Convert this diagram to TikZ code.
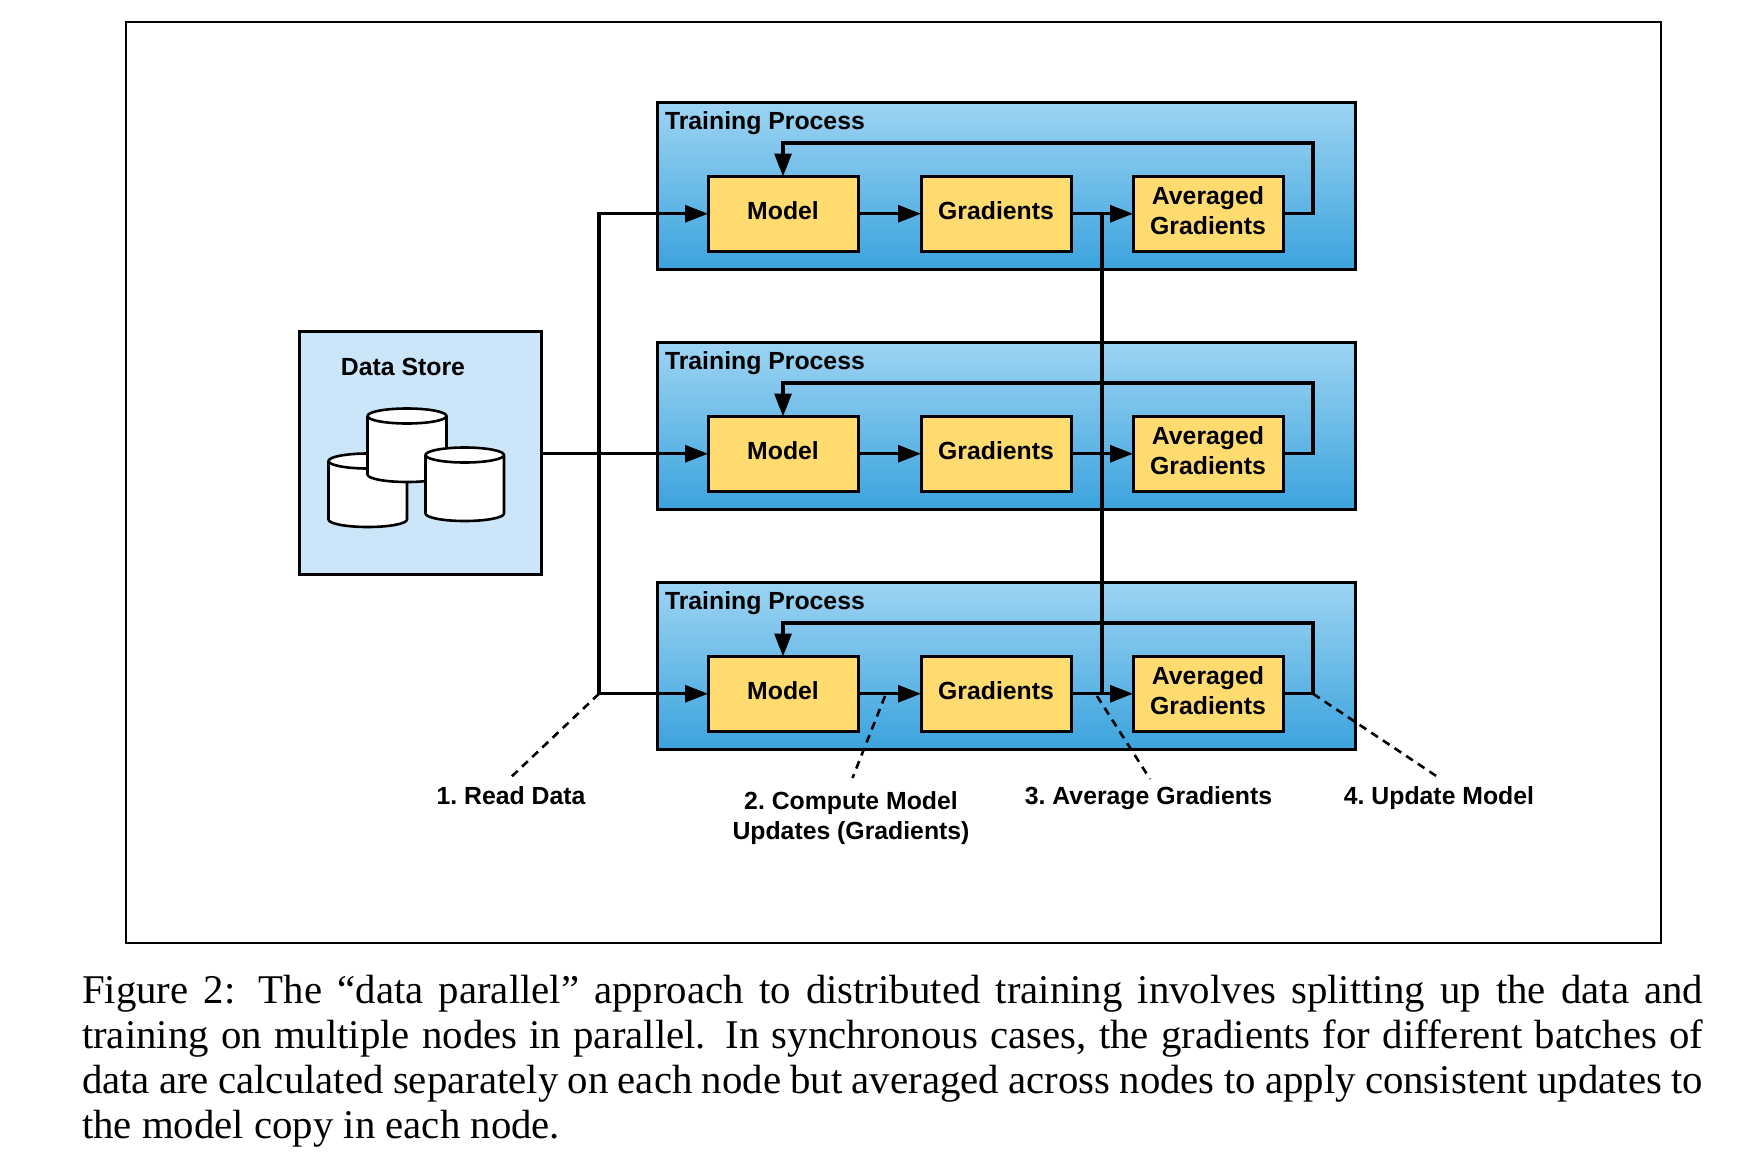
\documentclass[tikz,border=0pt]{standalone}
\usepackage{fontspec}
\setmainfont{Liberation Serif}
\newfontfamily\labelfont{Liberation Sans}
\usetikzlibrary{arrows.meta}
\definecolor{gradtop}{HTML}{9DD4F3}
\definecolor{gradbot}{HTML}{3BA3DD}
\definecolor{boxyellow}{HTML}{FFDB70}
\definecolor{storeblue}{HTML}{CBE6F8}
\newcommand{\lbl}{\labelfont\bfseries\fontsize{24.8}{30}\selectfont\frenchspacing}
\newcommand{\cylinder}[4]{% left, right, top centre y, bottom centre y
  \filldraw[cyl] (#1,#3) -- (#1,#4)
    arc[start angle=180,end angle=0,x radius={(#2-#1)/2},y radius=7.5]
    -- (#2,#3)
    arc[start angle=0,end angle=-180,x radius={(#2-#1)/2},y radius=7.5] -- cycle;
  \draw[cyl] (#1,#3) arc[start angle=180,end angle=0,x radius={(#2-#1)/2},y radius=7.5];
}
\tikzset{
  x=1pt,y=-1pt,outer sep=0pt,
  frame/.style={draw=black,line width=2pt,fill=white},
  proc/.style={draw=black,line width=3pt,top color=gradtop,bottom color=gradbot,minimum width=698pt,minimum height=167pt,inner sep=0pt,anchor=north west},
  unitbox/.style={draw=black,line width=3pt,fill=boxyellow,minimum width=150pt,minimum height=74.5pt,inner sep=0pt,font=\lbl,align=center,anchor=north west},
  txt/.style={font=\lbl,inner sep=0pt,align=center,text=black},
  conn/.style={line width=3.05pt,draw=black},
  arr/.style={conn,-{Triangle[length=23pt,width=17pt]}},
  lead/.style={line width=2.6pt,draw=black,dash pattern=on 8pt off 6pt},
  cyl/.style={line width=2.6pt,draw=black,fill=white,line join=round},
}
\begin{document}
\begin{tikzpicture}
\useasboundingbox (0,0) rectangle (1764,1162);
\fill[white] (0,0) rectangle (1764,1162);
\node[frame,minimum width=1535pt,minimum height=921pt,inner sep=0pt,anchor=north west] (outer) at (125.5,21.5) {};

% data store
\node[draw=black,line width=3pt,fill=storeblue,minimum width=242.5pt,minimum height=243pt,inner sep=0pt,anchor=north west] (store) at (299,331) {};
\node[txt] (storelabel) at (403,367) {Data Store};
\cylinder{328.5}{407}{461}{519.5}
\cylinder{367.5}{446.5}{416}{474.5}
\cylinder{425.5}{504}{455}{513.5}

% training processes
\foreach \i/\ty in {1/102.5,2/342.5,3/582.5}{
  \node[proc] (tp\i) at (657.5,\ty) {};
  \node[txt,anchor=west] (tl\i) at (665,\ty+21) {Training Process};
  \node[unitbox,text height=17pt,text depth=5.5pt] (m\i) at (708,\ty+74) {Model};
  \node[unitbox,text height=17pt,text depth=5.5pt] (g\i) at (921,\ty+74) {Gradients};
  \node[unitbox] (a\i) at (1133,\ty+74) {Averaged\\Gradients\\[-23pt]~};
}

% within each process
\foreach \i in {1,2,3}{
  \draw[arr] (m\i.east) -- (g\i.west);
  \draw[arr] (g\i.east) -- (a\i.west);
  \coordinate (fbR\i) at ([xshift=30pt]a\i.east);
  \coordinate (fbT\i) at ([yshift=33.5pt]fbR\i |- a\i.north);
  \draw[arr] (a\i.east) -- (fbR\i) -- (fbT\i) -- (fbT\i -| m\i.north) -- (m\i.north);
}

% data bus
\coordinate (busT) at (599,0 |- m1.west);
\coordinate (busB) at (599,0 |- m3.west);
\draw[arr] (store.east |- m2.west) -- (m2.west);
\draw[arr] (busB) -- (busT) -- (m1.west);
\draw[arr] (busB) -- (m3.west);

% averaging bus
\coordinate (avT) at (1102,0 |- g1.east);
\coordinate (avB) at (1102,0 |- g3.east);
\draw[conn] (avT) -- (avB);

% labels
\node[txt,anchor=base] (l1) at (511,804) {1. Read Data};
\node[txt] (l2) at (851,818.5) {2. Compute Model\\Updates (Gradients)};
\node[txt,anchor=base] (l3) at (1148.5,804) {3. Average Gradients};
\node[txt,anchor=base] (l4) at (1439,804) {4. Update Model};

\coordinate (e1) at (509,779);
\coordinate (e2) at (852.5,778);
\coordinate (e3) at (1150,779);
\coordinate (e4) at (1440,778.5);
\coordinate (s2) at (885,696);
\coordinate (s3) at (1097,696);
\draw[lead] (busB) -- (e1);
\draw[lead] (s2) -- (e2);
\draw[lead] (s3) -- (e3);
\draw[lead] (fbR3) -- (e4);

% caption
\node[inner sep=0pt,anchor=north west,text width=1621pt,align=justify,font=\fontsize{40.8}{45}\selectfont] (cap) at (82,975)
{Figure 2: The “data parallel” approach to distributed training involves splitting up the data and\linebreak
training on multiple nodes in parallel. In synchronous cases, the gradients for different batches of\linebreak
data are calculated separately on each node but averaged across nodes to apply consistent updates to\linebreak
the model copy in each node.};
\end{tikzpicture}
\end{document}
